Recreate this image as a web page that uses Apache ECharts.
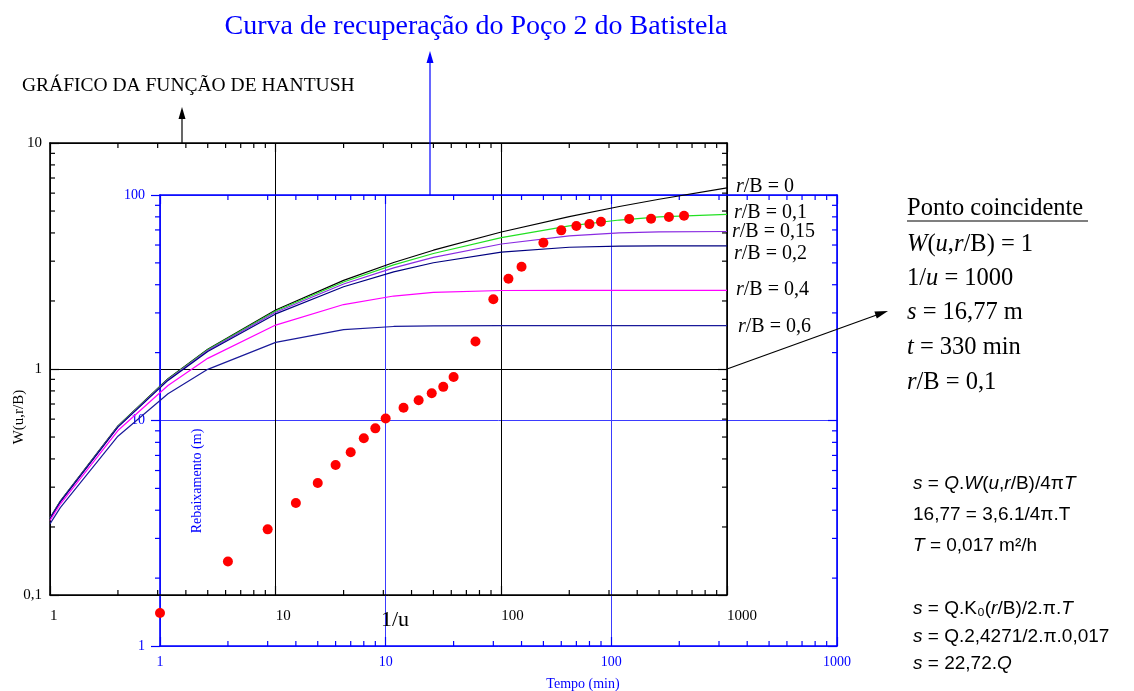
<!DOCTYPE html>
<html><head><meta charset="utf-8">
<script src="https://cdn.jsdelivr.net/npm/echarts@6/dist/echarts.min.js"></script>
<style>html,body{margin:0;padding:0;background:#fff}#chart{width:1134px;height:691px}</style>
</head><body><div id="chart"></div>
<script>
// ---- Hantush type curves: 1/u vs W(u, r/B) ----
const invU = [1, 1.111, 2, 3.333, 5, 10, 20, 33.33, 50, 100, 200, 333.3, 500, 1000];
const W_rB_0    = [0.2194, 0.2602, 0.5598, 0.9057, 1.2227, 1.8229, 2.4679, 2.9591, 3.3547, 4.0379, 4.7261, 5.2349, 5.6394, 6.3315];
const W_rB_0_1  = [0.2190, 0.2597, 0.5581, 0.9018, 1.2155, 1.8050, 2.4271, 2.8877, 3.2442, 3.8150, 4.2960, 4.5621, 4.7079, 4.8292];
const W_rB_0_15 = [0.2185, 0.2591, 0.5561, 0.8969, 1.2066, 1.7829, 2.3776, 2.8018, 3.1158, 3.5725, 3.8821, 4.0020, 4.0435, 4.0595];
const W_rB_0_2  = [0.2179, 0.2583, 0.5533, 0.8902, 1.1944, 1.7527, 2.3110, 2.6896, 2.9521, 3.2875, 3.4567, 3.4968, 3.5043, 3.5054];
const W_rB_0_4  = [0.2135, 0.2526, 0.5343, 0.8457, 1.1145, 1.5644, 1.9284, 2.1032, 2.1810, 2.2254, 2.2291, 2.2291, 2.2291, 2.2291];
const W_rB_0_6  = [0.2064, 0.2436, 0.5044, 0.7775, 0.9964, 1.3114, 1.4927, 1.5423, 1.5529, 1.5550, 1.5550, 1.5550, 1.5550, 1.5550];
const curveLabels = ['0', '0,1', '0,15', '0,2', '0,4', '0,6'];

// ---- Recovery data, Poço 2 do Batistela ----
const tempoMin = [1, 2, 3, 4, 5, 6, 7, 8, 9, 10, 12, 14, 16, 18, 20, 25, 30, 35, 40, 50, 60, 70, 80, 90, 120, 150, 180, 210];
const rebaixM  = [1.40, 2.37, 3.29, 4.31, 5.28, 6.35, 7.23, 8.34, 9.23, 10.2, 11.4, 12.3, 13.2, 14.1, 15.6, 22.4, 34.5, 42.5, 48.1, 61.4, 69.7, 72.9, 74.3, 76.1, 78.3, 78.5, 79.9, 80.9];

// ---- Axis ranges ----
const blackX = [1, 1000], blackY = [0.1, 10];
const blueX = [1, 1000], blueY = [1, 100];

const serif = 'Liberation Serif', sans = 'Liberation Sans';
const BLUE = '#0000ff';

function logMinor(lo, hi) {
  const out = [];
  for (let d = lo; d < hi; d *= 10) for (let k = 2; k <= 9; k++) out.push(+(k * d).toPrecision(4));
  return out;
}

function minorSeries(xi, yi, xr, yr, leftOutside, color, len, width) {
  const data = logMinor(xr[0], xr[1]).map(v => [v, yr[0], 0])
    .concat(logMinor(yr[0], yr[1]).map(v => [xr[0], v, 1]));
  return {
    type: 'custom', xAxisIndex: xi, yAxisIndex: yi, silent: true, z: 3, clip: false,
    dimensions: ['x', 'y', 'k'], encode: { x: 0, y: 1 }, data: data,
    renderItem: function (params, api) {
      const k = api.value(2);
      let segs;
      if (k === 0) {
        const v = api.value(0);
        const b = api.coord([v, yr[0]]), t = api.coord([v, yr[1]]);
        segs = [[b[0], b[1], b[0], b[1] - len], [t[0], t[1], t[0], t[1] + len]];
      } else {
        const v = api.value(1);
        const l = api.coord([xr[0], v]), r = api.coord([xr[1], v]);
        segs = [leftOutside ? [l[0] - len, l[1], l[0], l[1]] : [l[0], l[1], l[0] + len, l[1]],
                [r[0] - len, r[1], r[0], r[1]]];
      }
      return { type: 'group', children: segs.map(s => ({
        type: 'line', shape: { x1: s[0], y1: s[1], x2: s[2], y2: s[3] },
        style: { stroke: color, lineWidth: width } })) };
    }
  };
}

const curves = [
  { w: W_rB_0, color: '#000000', off: [0, -1] },
  { w: W_rB_0_1, color: '#22e022', off: [-2, -2] },
  { w: W_rB_0_15, color: '#8a2be2', off: [-4, 0] },
  { w: W_rB_0_2, color: '#000080', off: [-2, 8] },
  { w: W_rB_0_4, color: '#ff00ff', off: [0, -1] },
  { w: W_rB_0_6, color: '#1a1a9a', off: [2, 1] }
];

const curveSeries = curves.map((c, i) => ({
  type: 'line', xAxisIndex: 0, yAxisIndex: 0, z: 4,
  data: invU.map((x, j) => [x, c.w[j]]),
  symbol: 'none', lineStyle: { color: c.color, width: 1.2 },
  endLabel: {
    show: true, distance: 9, offset: c.off,
    formatter: '{i|r}/B = ' + curveLabels[i],
    fontFamily: serif, fontSize: 20, color: '#000',
    rich: { i: { fontFamily: serif, fontSize: 20, fontStyle: 'italic', color: '#000' } }
  }
}));

function axisBase(grid, range, pos, color, showLabel, fs, margin, lineW) {
  return {
    type: 'log', logBase: 10, gridIndex: grid, min: range[0], max: range[1], position: pos,
    axisLine: { show: true, onZero: false, lineStyle: { color: color, width: lineW } },
    axisTick: { show: true, inside: true, length: 9, lineStyle: { color: color, width: 1.2 } },
    minorTick: { show: false }, splitLine: { show: false },
    axisLabel: { show: showLabel, color: color, fontFamily: serif, fontSize: fs, margin: margin,
      showMinLabel: true, showMaxLabel: true, hideOverlap: false,
      formatter: v => String(+v.toPrecision(6)).replace('.', ',') }
  };
}

const xAxes = [
  Object.assign(axisBase(0, blackX, 'bottom', '#000', true, 15, 14, 1.6), {
    splitLine: { show: true, lineStyle: { color: '#000', width: 1 } } }),
  axisBase(0, blackX, 'top', '#000', false, 15, 8, 1.6),
  Object.assign(axisBase(1, blueX, 'bottom', BLUE, true, 14, 9, 1.6), {
    splitLine: { show: true, lineStyle: { color: '#3b3bff', width: 1 } } }),
  axisBase(1, blueX, 'top', BLUE, false, 14, 8, 1.6)
];
xAxes[0].axisLabel.align = 'left';

const yAxes = [
  Object.assign(axisBase(0, blackY, 'left', '#000', true, 15, 8, 1.6), {
    splitLine: { show: true, lineStyle: { color: '#000', width: 1 } } }),
  axisBase(0, blackY, 'right', '#000', false, 15, 8, 1.6),
  Object.assign(axisBase(1, blueY, 'left', BLUE, true, 14, 15, 1.6), {
    splitLine: { show: true, lineStyle: { color: '#3b3bff', width: 1 } } }),
  axisBase(1, blueY, 'right', BLUE, false, 14, 8, 1.6)
];
yAxes[2].axisTick.inside = false;

function txt(x, y, text, size, family, color, opts) {
  const o = opts || {};
  return {
    type: 'text', x: x, y: y, rotation: o.rot || 0, z: 10, silent: true,
    style: {
      text: text, fontSize: size, fontFamily: family, fill: color,
      align: o.align || 'left', verticalAlign: 'middle',
      rich: { i: { fontSize: size, fontFamily: family, fontStyle: 'italic', fill: color } }
    }
  };
}
function seg(x1, y1, x2, y2, color, w) {
  return { type: 'line', z: 10, silent: true, shape: { x1, y1, x2, y2 }, style: { stroke: color, lineWidth: w || 1.2 } };
}
function head(points, color) {
  return { type: 'polygon', z: 10, silent: true, shape: { points: points }, style: { fill: color } };
}

const graphics = [
  txt(476, 27, 'Curva de recuperação do Poço 2 do Batistela', 28, serif, BLUE, { align: 'center' }),
  seg(430, 195, 430, 62, BLUE, 1.2), head([[430, 51], [426.5, 63], [433.5, 63]], BLUE),
  txt(22, 86, 'GRÁFICO DA FUNÇÃO DE HANTUSH', 19.5, serif, '#000'),
  seg(182, 143, 182, 118, '#000', 1.2), head([[182, 107], [178.5, 119], [185.5, 119]], '#000'),
  seg(727, 369, 878, 314.5, '#000', 1.2), head([[888, 311], [876.8, 318.6], [874.4, 311.6]], '#000'),
  txt(381, 620, '1/u', 22, serif, '#000'),
  txt(19, 417, 'W(u,r/B)', 15, serif, '#000', { align: 'center', rot: Math.PI / 2 }),
  txt(197, 481, 'Rebaixamento (m)', 14, serif, BLUE, { align: 'center', rot: Math.PI / 2 }),
  txt(583, 684, 'Tempo (min)', 14, serif, BLUE, { align: 'center' }),
  txt(907, 209, 'Ponto coincidente', 24.5, serif, '#000'),
  seg(907, 221, 1088, 221, '#000', 1.2),
  txt(907, 245, '{i|W}({i|u},{i|r}/B) = 1', 24.5, serif, '#000'),
  txt(907, 279, '1/{i|u} = 1000', 24.5, serif, '#000'),
  txt(907, 313, '{i|s} = 16,77 m', 24.5, serif, '#000'),
  txt(907, 348, '{i|t} = 330 min', 24.5, serif, '#000'),
  txt(907, 383, '{i|r}/B = 0,1', 24.5, serif, '#000'),
  txt(913, 484, '{i|s} = {i|Q}.{i|W}({i|u},{i|r}/B)/4π{i|T}', 19, sans, '#000'),
  txt(913, 515, '16,77 = 3,6.1/4π.T', 19, sans, '#000'),
  txt(913, 546, '{i|T} = 0,017 m²/h', 19, sans, '#000'),
  txt(913, 609, '{i|s} = Q.K₀({i|r}/B)/2.π.{i|T}', 19, sans, '#000'),
  txt(913, 637, '{i|s} = Q.2,4271/2.π.0,017', 19, sans, '#000'),
  txt(913, 664, '{i|s} = 22,72.{i|Q}', 19, sans, '#000')
];

const chart = echarts.init(document.getElementById('chart'), null, { renderer: 'canvas' });
chart.setOption({
  animation: false,
  backgroundColor: '#fff',
  grid: [
    { left: 50, top: 143, width: 677, height: 452, containLabel: false },
    { left: 160, top: 195, width: 677, height: 451, containLabel: false }
  ],
  xAxis: xAxes,
  yAxis: yAxes,
  series: curveSeries.concat([
    minorSeries(0, 0, blackX, blackY, false, '#000', 5, 1.2),
    minorSeries(2, 2, blueX, blueY, true, BLUE, 5, 1.2),
    {
      type: 'scatter', xAxisIndex: 2, yAxisIndex: 2, z: 6,
      data: tempoMin.map((t, i) => [t, rebaixM[i]]),
      symbol: 'circle', symbolSize: 10, itemStyle: { color: '#ff0000', opacity: 1 }
    }
  ]),
  graphic: graphics
});
</script></body></html>
